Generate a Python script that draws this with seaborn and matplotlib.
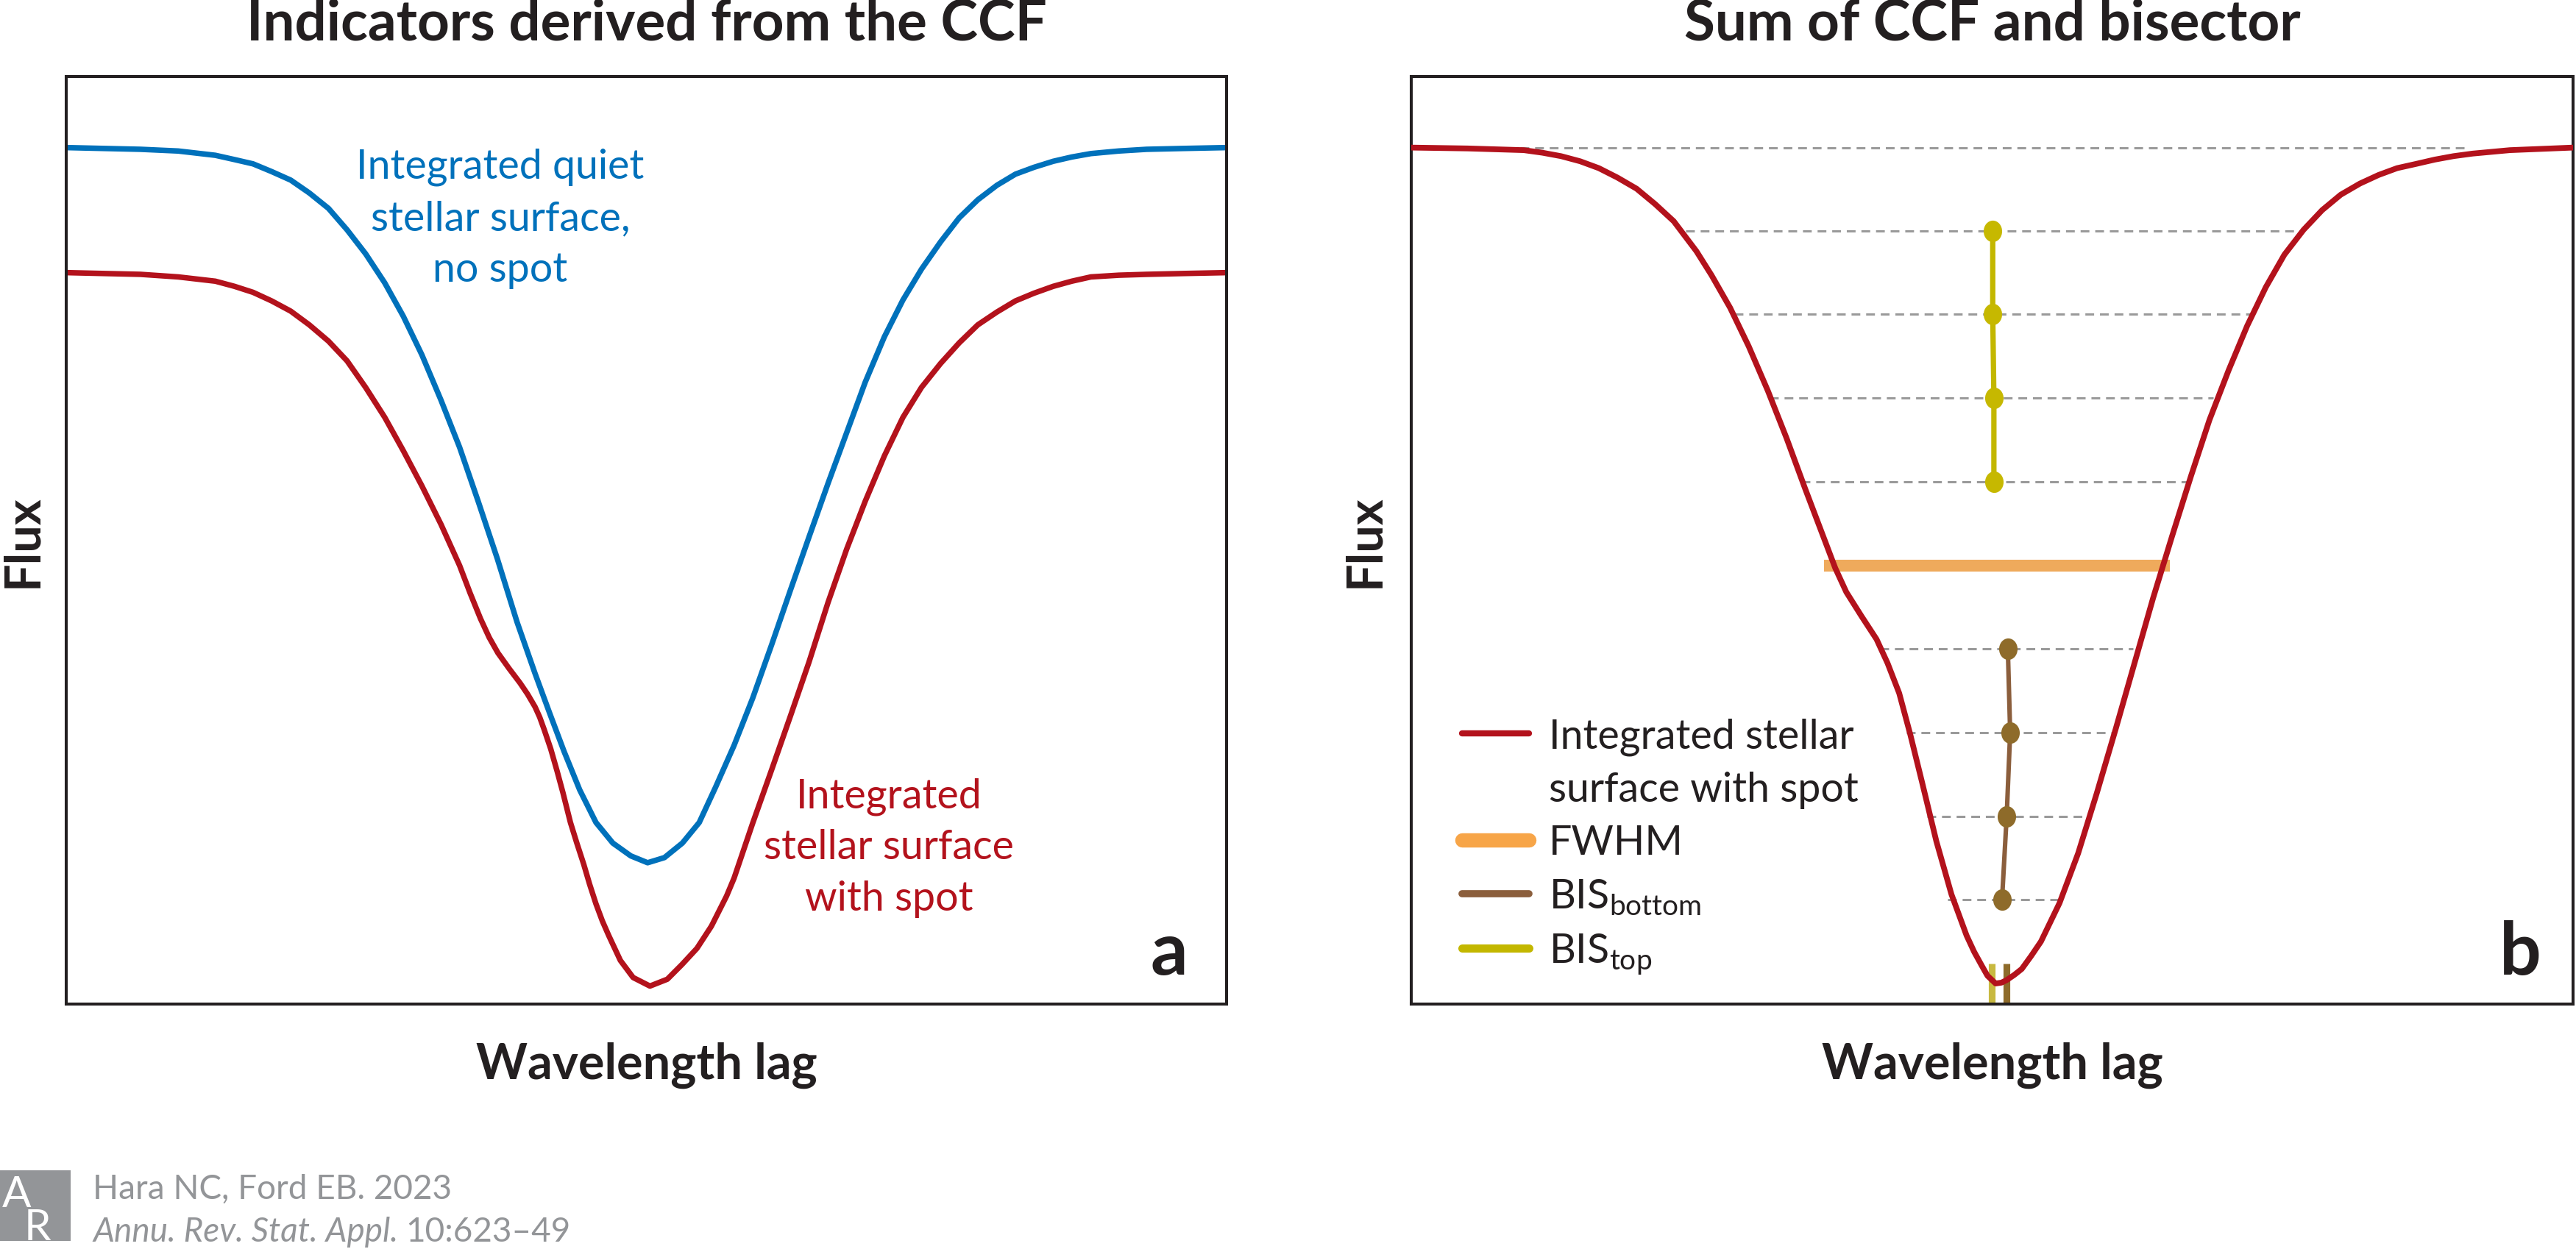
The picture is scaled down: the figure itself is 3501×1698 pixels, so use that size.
import matplotlib
matplotlib.use("Agg")
import matplotlib.pyplot as plt
import seaborn as sns
from matplotlib.lines import Line2D
from matplotlib.path import Path
from matplotlib.transforms import Affine2D
from matplotlib.patches import Rectangle

# lag: -1..1 across each panel, flux: 1 = quiet continuum, 0 = bottom of the box

# panel a, quiet star (blue)
lag_quiet = [-1.0, -0.936, -0.872, -0.807, -0.743, -0.710, -0.678, -0.646, -0.613, -0.581,
             -0.548, -0.516, -0.484, -0.451, -0.419, -0.387, -0.354, -0.322, -0.290, -0.257,
             -0.223, -0.192, -0.167, -0.142, -0.115, -0.087, -0.058, -0.027, 0.002, 0.031,
             0.062, 0.091, 0.119, 0.151, 0.183, 0.216, 0.248, 0.280, 0.313, 0.345,
             0.377, 0.410, 0.442, 0.474, 0.507, 0.539, 0.571, 0.604, 0.636, 0.668,
             0.701, 0.733, 0.766, 0.814, 0.862, 0.927, 1.0]
flux_quiet = [1.000, 0.999, 0.998, 0.996, 0.991, 0.986, 0.981, 0.972, 0.962, 0.947,
              0.929, 0.904, 0.876, 0.842, 0.803, 0.758, 0.705, 0.650, 0.587, 0.520,
              0.446, 0.386, 0.340, 0.295, 0.250, 0.212, 0.188, 0.173, 0.165, 0.171,
              0.188, 0.212, 0.253, 0.302, 0.357, 0.420, 0.483, 0.545, 0.608, 0.667,
              0.726, 0.779, 0.822, 0.858, 0.890, 0.918, 0.939, 0.956, 0.969, 0.977,
              0.984, 0.989, 0.993, 0.996, 0.998, 0.999, 1.000]

# panel a, star with spot (red)
lag_spot_a = [-1.0, -0.936, -0.872, -0.807, -0.743, -0.710, -0.678, -0.646, -0.613, -0.581,
              -0.548, -0.516, -0.484, -0.451, -0.419, -0.387, -0.354, -0.322, -0.304, -0.286,
              -0.271, -0.256, -0.237, -0.218, -0.205, -0.192, -0.184, -0.176, -0.165, -0.154,
              -0.144, -0.131, -0.120, -0.108, -0.098, -0.087, -0.076, -0.065, -0.045, -0.023,
              0.006, 0.036, 0.061, 0.087, 0.112, 0.138, 0.151, 0.183, 0.216, 0.248,
              0.280, 0.313, 0.345, 0.377, 0.410, 0.442, 0.474, 0.507, 0.539, 0.571,
              0.604, 0.636, 0.668, 0.701, 0.733, 0.766, 0.814, 0.862, 0.927, 1.0]
flux_spot_a = [0.854, 0.853, 0.852, 0.849, 0.844, 0.838, 0.831, 0.821, 0.809, 0.793,
               0.774, 0.751, 0.720, 0.685, 0.646, 0.605, 0.560, 0.512, 0.480, 0.450,
               0.428, 0.410, 0.392, 0.375, 0.362, 0.347, 0.335, 0.320, 0.298, 0.272,
               0.247, 0.212, 0.188, 0.163, 0.140, 0.117, 0.097, 0.080, 0.051, 0.031,
               0.021, 0.029, 0.046, 0.065, 0.091, 0.126, 0.147, 0.211, 0.274, 0.336,
               0.399, 0.469, 0.531, 0.587, 0.640, 0.685, 0.720, 0.748, 0.772, 0.793,
               0.808, 0.821, 0.830, 0.838, 0.844, 0.849, 0.851, 0.852, 0.853, 0.854]

# panel b, star with spot (red, normalised)
lag_spot_b = [-1.000, -0.903, -0.806, -0.774, -0.742, -0.709, -0.677, -0.645, -0.612, -0.580,
              -0.548, -0.509, -0.483, -0.451, -0.419, -0.386, -0.354, -0.322, -0.289, -0.270,
              -0.251, -0.225, -0.199, -0.180, -0.160, -0.141, -0.121, -0.096, -0.070, -0.044,
              -0.031, -0.018, -0.008, 0.006, 0.016, 0.025, 0.038, 0.051, 0.067, 0.084,
              0.116, 0.148, 0.180, 0.213, 0.245, 0.277, 0.310, 0.342, 0.374, 0.407,
              0.439, 0.471, 0.503, 0.536, 0.568, 0.600, 0.633, 0.665, 0.697, 0.730,
              0.762, 0.794, 0.827, 0.891, 1.000]
flux_spot_b = [1.000, 0.999, 0.997, 0.994, 0.990, 0.984, 0.976, 0.965, 0.952, 0.934,
               0.914, 0.879, 0.851, 0.813, 0.768, 0.716, 0.661, 0.602, 0.543, 0.509,
               0.481, 0.453, 0.426, 0.398, 0.363, 0.315, 0.260, 0.190, 0.128, 0.080,
               0.061, 0.045, 0.033, 0.024, 0.025, 0.028, 0.034, 0.041, 0.056, 0.073,
               0.118, 0.176, 0.246, 0.322, 0.398, 0.474, 0.547, 0.616, 0.682, 0.740,
               0.792, 0.837, 0.875, 0.904, 0.927, 0.945, 0.958, 0.968, 0.976, 0.981,
               0.986, 0.990, 0.993, 0.997, 1.000]

# bisector levels and where each dashed level meets the profile
bis_top_levels = [0.903, 0.806, 0.708, 0.610]
bis_top_left = [-0.528, -0.444, -0.383, -0.328]
bis_top_right = [0.536, 0.445, 0.381, 0.335]
bis_top_x = [0.001, 0.001, 0.003, 0.003]

bis_bottom_levels = [0.415, 0.317, 0.219, 0.122]
bis_bottom_left = [-0.193, -0.147, -0.112, -0.076]
bis_bottom_right = [0.242, 0.210, 0.161, 0.113]
bis_bottom_x = [0.027, 0.031, 0.025, 0.017]

continuum_level = 1.0
continuum_span = [-0.813, 0.820]
fwhm_level = 0.512
fwhm_span = [-0.289, 0.306]

# mean bisector positions (small ticks at the bottom)
bis_top_mean = 0.000
bis_bottom_mean = 0.025
tick_height = 0.047

RED = "#B3121C"
BLUE = "#0071BB"
ORANGE_BAR = "#EFAA5C"
ORANGE_KEY = "#F7A548"
BROWN_LINE = "#8B5E3C"
BROWN_DOT = "#8E6B2A"
YELLOW_LINE = "#C3B700"
YELLOW_DOT = "#C6B800"
YELLOW_TICK = "#C8B940"
DASH = "#9A9A9A"
INK = "#231F20"
GREY = "#939598"

sns.set_theme(style="white")
plt.rcParams["font.family"] = ["Lato", "DejaVu Sans"]

fig = plt.figure(figsize=(17.505, 8.495), dpi=200)
ax_a = fig.add_axes([0.0257, 0.1960, 0.4505, 0.7422])
ax_b = fig.add_axes([0.5478, 0.1960, 0.4511, 0.7422])

for ax in (ax_a, ax_b):
    ax.set_xlim(-1, 1)
    ax.set_ylim(0, 1.083)
    ax.set_xticks([])
    ax.set_yticks([])
    for sp in ax.spines.values():
        sp.set_color(INK)
        sp.set_linewidth(1.45)
    ax.set_xlabel("Wavelength lag", fontsize=24, fontweight="bold", color=INK)
    ax.xaxis.label.set_va("baseline")
    ax.xaxis.set_label_coords(0.5, -0.080)
    ax.set_ylabel("Flux", fontsize=24, fontweight="bold", color=INK)
    ax.yaxis.label.set_va("center")

ax_a.yaxis.set_label_coords(-0.037, 0.5)
ax_b.yaxis.set_label_coords(-0.040, 0.5)

ax_a.set_title("Indicators derived from the CCF", fontsize=27.5, fontweight="bold", color=INK, pad=18)
ax_b.set_title("Sum of CCF and bisector", fontsize=27.5, fontweight="bold", color=INK, pad=18)

# ---- panel a
sns.lineplot(x=lag_quiet, y=flux_quiet, ax=ax_a, color=BLUE, lw=2.7, sort=False, estimator=None)
sns.lineplot(x=lag_spot_a, y=flux_spot_a, ax=ax_a, color=RED, lw=2.7, sort=False, estimator=None)

for txt, yy in zip(["Integrated quiet", "stellar surface,", "no spot"], [0.965, 0.904, 0.844]):
    ax_a.text(-0.252, yy, txt, color=BLUE, fontsize=20, ha="center", va="baseline")
for txt, yy in zip(["Integrated", "stellar surface", "with spot"], [0.230, 0.170, 0.110]):
    ax_a.text(0.418, yy, txt, color=RED, fontsize=20, ha="center", va="baseline")
ax_a.text(0.901, 0.035, "a", fontsize=36, fontweight="bold", color=INK, ha="center", va="baseline")

# ---- panel b
dash = (0, (3.9, 2.6))
ax_b.hlines(continuum_level, continuum_span[0], continuum_span[1], colors=DASH, lw=1.1, linestyles=dash, zorder=1)
ax_b.hlines(bis_top_levels, bis_top_left, bis_top_right, colors=DASH, lw=1.1, linestyles=dash, zorder=1)
ax_b.hlines(bis_bottom_levels, bis_bottom_left, bis_bottom_right, colors=DASH, lw=1.1, linestyles=dash, zorder=1)

ax_b.hlines(fwhm_level, fwhm_span[0], fwhm_span[1], colors=ORANGE_BAR, lw=5.8, zorder=2)

sns.lineplot(x=lag_spot_b, y=flux_spot_b, ax=ax_b, color=RED, lw=2.8, sort=False, estimator=None, zorder=3)

ellipse = Path.unit_circle().transformed(Affine2D().scale(0.86, 1.0))
sns.lineplot(x=bis_top_x, y=bis_top_levels, ax=ax_b, color=YELLOW_LINE, lw=2.6, sort=False,
             estimator=None, marker=ellipse, markersize=10.5, markerfacecolor=YELLOW_DOT,
             markeredgewidth=0, zorder=4)
sns.lineplot(x=bis_bottom_x, y=bis_bottom_levels, ax=ax_b, color=BROWN_LINE, lw=2.2, sort=False,
             estimator=None, marker=ellipse, markersize=10.5, markerfacecolor=BROWN_DOT,
             markeredgewidth=0, zorder=4)

ax_b.vlines(bis_top_mean, 0, tick_height, colors=YELLOW_TICK, lw=3.3, zorder=2)
ax_b.vlines(bis_bottom_mean, 0, tick_height, colors=BROWN_DOT, lw=3.3, zorder=2)

ax_b.text(0.909, 0.035, "b", fontsize=36, fontweight="bold", color=INK, ha="center", va="baseline")

handles = [
    Line2D([], [], color=RED, lw=3.0),
    Line2D([], [], color="none", lw=0),
    Line2D([], [], color=ORANGE_KEY, lw=7.0),
    Line2D([], [], color=BROWN_LINE, lw=3.5),
    Line2D([], [], color=YELLOW_LINE, lw=4.0),
]
labels = ["Integrated stellar", "surface with spot", "FWHM",
          r"BIS$_\mathregular{bottom}$", r"BIS$_\mathregular{top}$"]
leg = ax_b.legend(handles, labels, loc="upper left", bbox_to_anchor=(0.044, 0.309),
                  frameon=False, fontsize=20, handlelength=1.64, handletextpad=0.47,
                  labelspacing=0.38, borderpad=0, borderaxespad=0)
for t in leg.get_texts():
    t.set_color(INK)

# ---- journal footer
fig.patches.append(Rectangle((0, 0.0065), 0.0274, 0.0565, transform=fig.transFigure,
                             facecolor=GREY, edgecolor="none"))
fig.text(3 / 3501, 1 - 1686 / 1699, "A\n  R", color="white", fontsize=21, ha="left",
         va="baseline", multialignment="left", linespacing=0.82)

fig.text(0.036, 1 - 1630 / 1699, "Hara NC, Ford EB. 2023", color=GREY, fontsize=16.5, va="baseline")
t_it = fig.text(0.036, 1 - 1688 / 1699, "Annu. Rev. Stat. Appl.", color=GREY, fontsize=16.5,
                style="italic", va="baseline")
fig.canvas.draw()
bb = t_it.get_window_extent(renderer=fig.canvas.get_renderer())
fig.text(bb.x1 / fig.bbox.width + 0.003, 1 - 1688 / 1699, "10:623–49", color=GREY,
         fontsize=16.5, va="baseline")

fig.savefig("out.png", dpi=200)
